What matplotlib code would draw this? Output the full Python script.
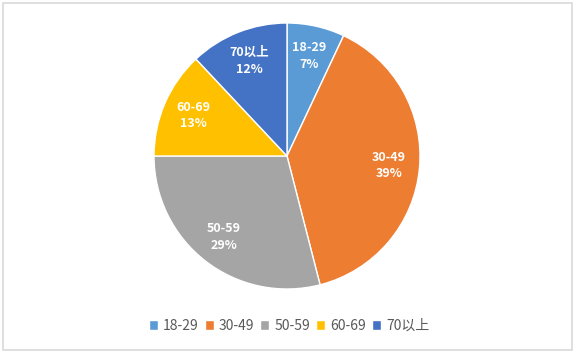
import matplotlib.pyplot as plt
from matplotlib.patches import Rectangle

plt.rcParams['font.family'] = ['Noto Sans CJK SC', 'DejaVu Sans']

categories = ['18-29', '30-49', '50-59', '60-69', '70以上']
shares = [7, 39, 29, 13, 12]
colors = ['#5B9BD5', '#ED7D31', '#A5A5A5', '#FFC000', '#4472C4']

W, H = 581, 361
fig = plt.figure(figsize=(W / 100, H / 100), dpi=100)

# pie centre and radius in pixels (from top-left)
cx, cy, r = 287, 156, 133
ax = fig.add_axes([(cx - r) / W, (H - cy - r) / H, 2 * r / W, 2 * r / H])

labels = [f'{c}\n{v}%' for c, v in zip(categories, shares)]
wedges, texts = ax.pie(shares, colors=colors, startangle=90, counterclock=False,
                       labels=labels, labeldistance=0.77,
                       wedgeprops=dict(edgecolor='white', linewidth=1))
for t in texts:
    t.set_color('white')
    t.set_fontsize(9)
    t.set_fontweight('bold')
    t.set_ha('center')
    t.set_va('center')
    t.set_linespacing(1.35)
ax.set_xlim(-1, 1)
ax.set_ylim(-1, 1)
ax.set_aspect('auto')
ax.axis('off')

# chart border
fig.patches.append(Rectangle((3 / W, 1 - 350 / H), 569 / W, 347 / H,
                             transform=fig.transFigure, fill=False,
                             edgecolor='#D9D9D9', linewidth=1.2))

leg = fig.legend(wedges, categories, loc='center', bbox_to_anchor=(289 / W, 1 - 326 / H),
                 ncol=5, frameon=False, fontsize=10, handlelength=0.65, handleheight=0.65,
                 handletextpad=0.35, columnspacing=0.45)
for t in leg.get_texts():
    t.set_color('#595959')

fig.savefig('out.png', dpi=100)
